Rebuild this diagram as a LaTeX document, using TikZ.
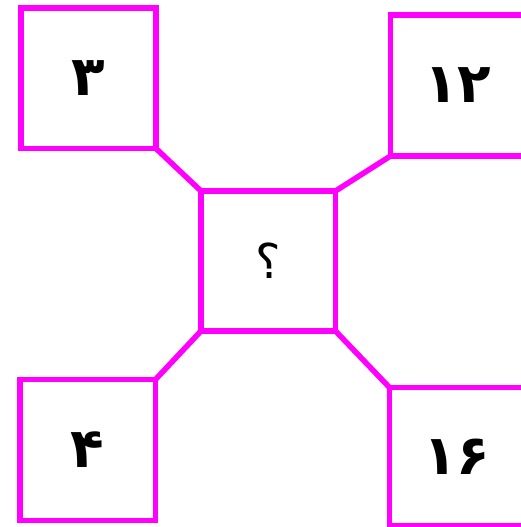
\documentclass[tikz,border=0pt]{standalone}
\usepackage{fontspec}
\TeXXeTstate=1
\newfontfamily\arabicfont[Script=Arabic]{DejaVu Sans}
\definecolor{mag}{RGB}{255,0,255}
\begin{document}
\begin{tikzpicture}[x=1pt,y=-1pt,
  box/.style={draw=mag, line width=5.5pt, inner sep=0pt, outer sep=0pt,
    minimum width=135pt, minimum height=140pt,
    font=\arabicfont\bfseries\fontsize{55}{60}\selectfont},
  link/.style={draw=mag, line width=5.5pt}]
\useasboundingbox (0,0) rectangle (521,527);
\clip (0,0) rectangle (521,527);
\node[box, minimum height=140.5pt] (tl) at (88.5,78.25) {۳};
\node[box, minimum height=141pt] (tr) at (458,85.5) {۱۲};
\node[box, minimum width=134.5pt, font=\arabicfont\fontsize{48}{54}\selectfont] (c) at (268.25,261) {\beginR ؟\endR};
\node[box, minimum width=135.5pt, minimum height=141pt] (bl) at (87.75,450) {۴};
\node[box, minimum height=138pt] (br) at (457,456.5) {۱۶};
\draw[link] (tl.south east) -- (c.north west);
\draw[link] (tr.south west) -- (c.north east);
\draw[link] (bl.north east) -- (c.south west);
\draw[link] (br.north west) -- (c.south east);
\end{tikzpicture}
\end{document}
